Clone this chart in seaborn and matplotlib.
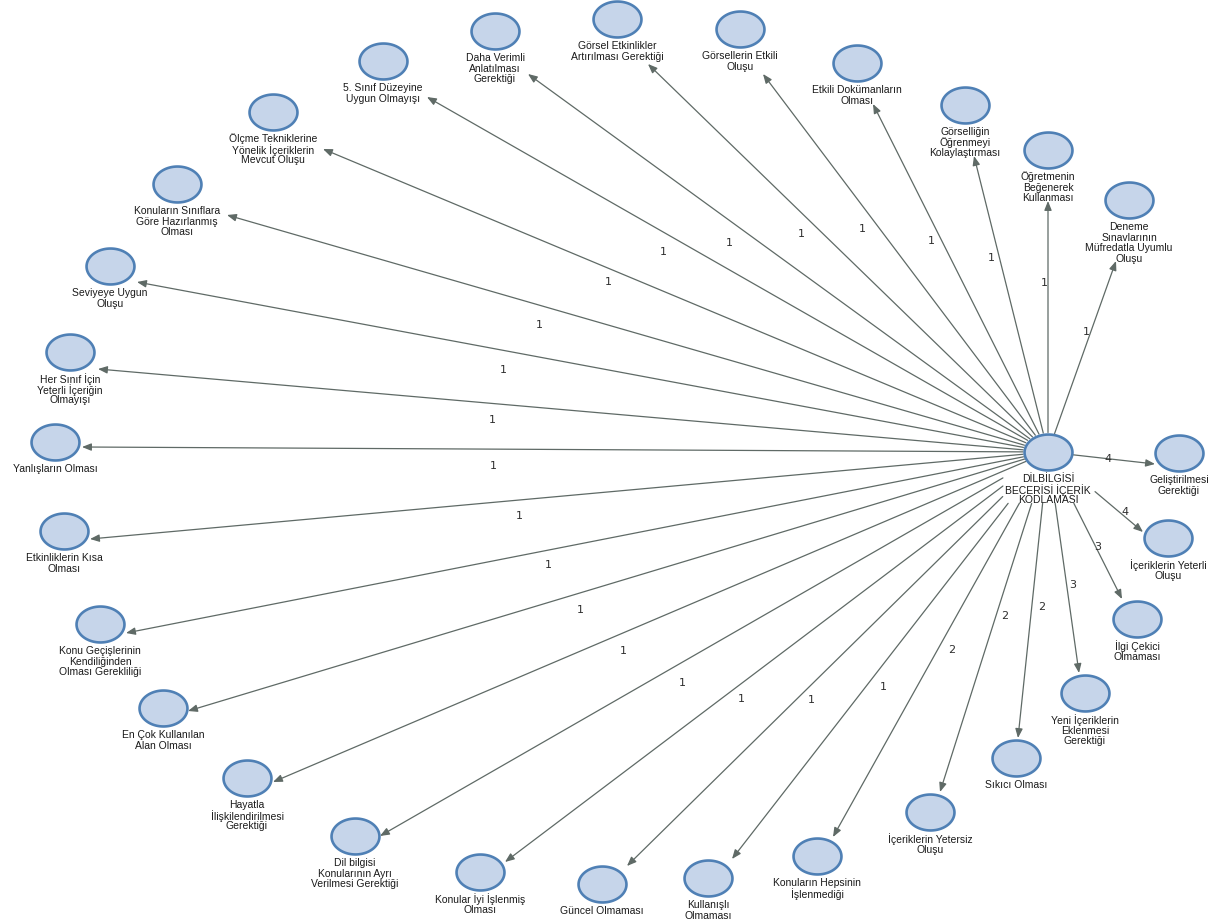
import numpy as np
import pandas as pd
import matplotlib
matplotlib.use("Agg")
import matplotlib.pyplot as plt
from matplotlib.path import Path
import seaborn as sns

# ---------------- data ----------------
center_label = "DİLBİLGİSİ\nBECERİSİ İÇERİK\nKODLAMASI"
center_x = 1048
center_y = 453

codes = [
    "Geliştirilmesi\nGerektiği",
    "İçeriklerin Yeterli\nOluşu",
    "İlgi Çekici\nOlmaması",
    "Yeni İçeriklerin\nEklenmesi\nGerektiği",
    "Sıkıcı Olması",
    "İçeriklerin Yetersiz\nOluşu",
    "Konuların Hepsinin\nİşlenmediği",
    "Kullanışlı\nOlmaması",
    "Güncel Olmaması",
    "Konular İyi İşlenmiş\nOlması",
    "Dil bilgisi\nKonularının Ayrı\nVerilmesi Gerektiği",
    "Hayatla\nİlişkilendirilmesi\nGerektiği",
    "En Çok Kullanılan\nAlan Olması",
    "Konu Geçişlerinin\nKendiliğinden\nOlması Gerekliliği",
    "Etkinliklerin Kısa\nOlması",
    "Yanlışların Olması",
    "Her Sınıf İçin\nYeterli İçeriğin\nOlmayışı",
    "Seviyeye Uygun\nOluşu",
    "Konuların Sınıflara\nGöre Hazırlanmış\nOlması",
    "Ölçme Tekniklerine\nYönelik İçeriklerin\nMevcut Oluşu",
    "5. Sınıf Düzeyine\nUygun Olmayışı",
    "Daha Verimli\nAnlatılması\nGerektiği",
    "Görsel Etkinlikler\nArtırılması Gerektiği",
    "Görsellerin Etkili\nOluşu",
    "Etkili Dokümanların\nOlması",
    "Görselliğin\nÖğrenmeyi\nKolaylaştırması",
    "Öğretmenin\nBeğenerek\nKullanması",
    "Deneme\nSınavlarının\nMüfredatla Uyumlu\nOluşu",
]
weights = [4, 4, 3, 3, 2, 2, 2, 1, 1, 1, 1, 1, 1, 1,
           1, 1, 1, 1, 1, 1, 1, 1, 1, 1, 1, 1, 1, 1]

# layout (node centres, arrow tips, weight-label anchors) in image pixels
node_x = [1179, 1168, 1137, 1085, 1016, 930, 817, 708, 602, 480, 355, 247, 163, 100,
          64, 55, 70, 110, 177, 273, 383, 495, 617, 740, 857, 965, 1048, 1129]
node_y = [454, 539, 620, 694, 759, 813, 857, 879, 885, 873, 837, 779, 709, 625,
          532, 443, 353, 267, 185, 113, 62, 32, 20, 30, 64, 106, 151, 201]
tip_x = [1155, 1143, 1122, 1079, 1018, 940, 833, 732, 627, 505, 380, 273, 188, 126,
         90, 82, 98, 137, 227, 323, 427, 528, 648, 763, 873, 974, 1048, 1116]
tip_y = [465, 533, 600, 674, 739, 793, 838, 860, 867, 863, 837, 783, 712, 634,
         540, 448, 370, 283, 216, 150, 98, 75, 65, 75, 105, 157, 202, 262]
wlab_x = [1108, 1125, 1098, 1073, 1042, 1005, 952, 883, 811, 741, 682, 623, 580, 548,
          519, 493, 492, 503, 539, 608, 663, 729, 801, 862, 931, 991, 1044, 1086]
wlab_y = [459, 512, 547, 585, 607, 616, 650, 687, 700, 699, 683, 651, 610, 565,
          516, 466, 420, 370, 325, 282, 252, 243, 234, 229, 241, 258, 283, 332]

# ---------------- style ----------------
sns.set_theme(style="white")
plt.rcParams["font.family"] = ["Liberation Sans", "DejaVu Sans"]

W, H = 1215, 920
fig = plt.figure(figsize=(W / 100, H / 100), dpi=100)
ax = fig.add_axes([0, 0, 1, 1])

line_col = "#5f6a66"
node_fill = "#c6d5ea"
node_edge = "#4f80b5"
text_col = "#1a1a1a"
first_line_dy = 25
line_step = 10.6


def start_point(tx, ty):
    d = np.array([tx - center_x, ty - center_y], dtype=float)
    d /= np.hypot(*d)
    for t in np.arange(0, 300, 0.5):
        px, py = center_x + d[0] * t, center_y + d[1] * t
        in_ell = ((px - center_x) / 25) ** 2 + ((py - center_y) / 19) ** 2 <= 1
        in_box = (1003 <= px <= 1095) and (463 <= py <= 504)
        if not (in_ell or in_box):
            return px, py
    return center_x, center_y


def node_label(text, x, y):
    for k, line in enumerate(text.split("\n")):
        ax.text(x, y + first_line_dy + k * line_step, line, ha="center",
                va="center_baseline", fontsize=7.5, color=text_col, zorder=5)


# nodes (ellipse marker)
theta = np.linspace(0, 2 * np.pi, 80)
ell = Path(np.column_stack([np.cos(theta), 0.75 * np.sin(theta)]), closed=True)
nodes = pd.DataFrame({
    "x": node_x + [center_x],
    "y": node_y + [center_y],
})
sns.scatterplot(data=nodes, x="x", y="y", marker=ell, s=1190,
                color=node_fill, edgecolor=node_edge, linewidth=1.9,
                ax=ax, zorder=4, legend=False)
ax.set_xlim(0, W)
ax.set_ylim(H, 0)
ax.axis("off")

# edges
for tx, ty in zip(tip_x, tip_y):
    sx, sy = start_point(tx, ty)
    ax.annotate("", xy=(tx, ty), xytext=(sx, sy),
                arrowprops=dict(arrowstyle="-|>,head_length=0.55,head_width=0.22",
                                color=line_col, lw=0.9, shrinkA=0, shrinkB=0,
                                mutation_scale=10),
                zorder=1)

# weight labels
for w, lx, ly in zip(weights, wlab_x, wlab_y):
    ax.text(lx, ly, str(w), ha="center", va="center", fontsize=8,
            family=["DejaVu Sans"], color="#2e2e2e", zorder=3)

# node labels
for lab, nx, ny in zip(codes, node_x, node_y):
    node_label(lab, nx, ny)
node_label(center_label, center_x, center_y)

fig.savefig("out.png", dpi=100, facecolor="white")
